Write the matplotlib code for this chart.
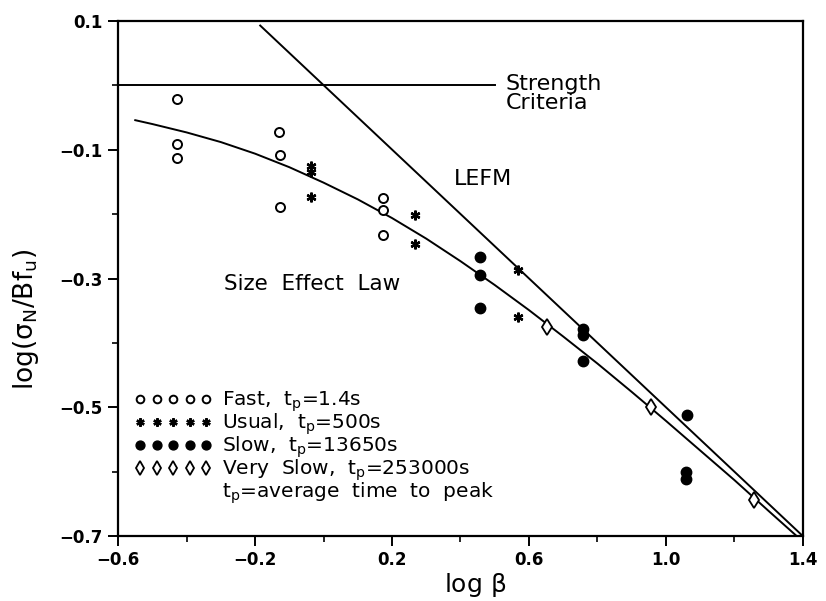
"""Size effect plot (log sigma_N/Bf_u vs log beta) redrawn from a scanned
figure: four loading-rate series, LEFM asymptote, strength criterion and
the size effect law curve.
"""
import matplotlib
matplotlib.use("Agg")
import matplotlib.pyplot as plt
from matplotlib.lines import Line2D

# Test points -----------------------------------------------------------
fast_x = [-0.429, -0.428, -0.428, -0.129, -0.128, -0.127, 0.173, 0.173, 0.174]
fast_y = [-0.021, -0.091, -0.112, -0.073, -0.108, -0.189, -0.175, -0.193, -0.232]

usual_x = [-0.037, -0.037, -0.036, 0.266, 0.267, 0.567, 0.568]
usual_y = [-0.125, -0.135, -0.173, -0.201, -0.247, -0.287, -0.360]

slow_x = [0.457, 0.457, 0.458, 0.758, 0.758, 0.759, 1.062, 1.059, 1.059]
slow_y = [-0.267, -0.294, -0.345, -0.379, -0.388, -0.428, -0.512, -0.601, -0.612]

vslow_x = [0.653, 0.955, 1.256]
vslow_y = [-0.375, -0.500, -0.644]

# Reference lines -------------------------------------------------------
sel_x = [-0.55, -0.5, -0.4, -0.3, -0.2, -0.1, 0.0, 0.1, 0.2, 0.3, 0.4,
         0.5, 0.6, 0.7, 0.8, 0.9, 1.0, 1.1, 1.2, 1.3, 1.38]
sel_y = [-0.054, -0.060, -0.073, -0.088, -0.106, -0.127, -0.151, -0.177,
         -0.206, -0.238, -0.273, -0.310, -0.349, -0.390, -0.432, -0.476,
         -0.521, -0.567, -0.613, -0.661, -0.699]
lefm_x = [-0.185, 1.4]
lefm_y = [0.093, -0.7]
strength_x = [-0.6, 0.5]
strength_y = [0.0, 0.0]

# Axes ticks ------------------------------------------------------------
xticks = [-0.6, -0.2, 0.2, 0.6, 1.0, 1.4]
xtick_labels = ["\u22120.6", "\u22120.2", "0.2", "0.6", "1.0", "1.4"]
xminor = [-0.4, 0.0, 0.4, 0.8, 1.2]
yticks = [0.1, -0.1, -0.3, -0.5, -0.7]
ytick_labels = ["0.1", "\u22120.1", "\u22120.3", "\u22120.5", "\u22120.7"]
yminor = [0.0, -0.2, -0.4, -0.6]

legend_labels = [r"Fast,  $t_p$=1.4s",
                 r"Usual,  $t_p$=500s",
                 r"Slow,  $t_p$=13650s",
                 r"Very  Slow,  $t_p$=253000s",
                 r"$t_p$=average  time  to  peak"]

plt.rcParams["mathtext.default"] = "regular"
plt.rcParams["font.family"] = "DejaVu Sans"

fig = plt.figure(figsize=(8.26, 6.01), dpi=100)
ax = fig.add_axes([0.143, 0.108, 0.829, 0.857])

lw = 1.4
ax.plot(strength_x, strength_y, color="black", lw=lw)
ax.plot(lefm_x, lefm_y, color="black", lw=lw)
ax.plot(sel_x, sel_y, color="black", lw=lw)

h_fast, = ax.plot(fast_x, fast_y, ls="none", marker="o", ms=6.5,
                  mfc="white", mec="black", mew=1.4)
h_usual, = ax.plot(usual_x, usual_y, ls="none", marker=(6, 2, 0), ms=7,
                   mec="black", mew=1.7)
h_slow, = ax.plot(slow_x, slow_y, ls="none", marker="o", ms=7.5,
                  mfc="black", mec="black")
h_vslow, = ax.plot(vslow_x, vslow_y, ls="none", marker="d", ms=8.5,
                   mfc="white", mec="black", mew=1.3)
h_blank = Line2D([], [], ls="none")

ax.text(0.532, -0.012, "Strength\nCriteria", fontsize=16, va="center",
        ha="left", linespacing=0.95)
ax.text(0.38, -0.145, "LEFM", fontsize=16, va="center", ha="left")
ax.text(-0.292, -0.309, "Size  Effect  Law", fontsize=15.5, va="center",
        ha="left")

ax.legend([h_fast, h_usual, h_slow, h_vslow, h_blank], legend_labels,
          numpoints=5, handlelength=3.9, handletextpad=0.5,
          labelspacing=-0.12, markerscale=0.85, frameon=False,
          fontsize=14.5, loc="lower left", borderpad=0, borderaxespad=0,
          bbox_to_anchor=(0.023, 0.058))

ax.set_xlim(-0.6, 1.4)
ax.set_ylim(-0.7, 0.1)
ax.set_xticks(xticks)
ax.set_xticklabels(xtick_labels)
ax.set_xticks(xminor, minor=True)
ax.set_yticks(yticks)
ax.set_yticklabels(ytick_labels)
ax.tick_params(which="major", direction="out", length=7, width=1.4,
               labelsize=12, pad=4)
ax.set_yticks(yminor, minor=True)
ax.tick_params(which="minor", direction="out", length=4.5, width=1.2)
for lab in ax.get_xticklabels() + ax.get_yticklabels():
    lab.set_fontweight("bold")
for sp in ax.spines.values():
    sp.set_linewidth(1.6)

ax.set_xlabel(r"log $\beta$", fontsize=18)
ax.xaxis.set_label_coords(0.522, -0.068)
ax.set_ylabel(r"log($\sigma_N$/B$f_u$)", fontsize=19)
ax.yaxis.set_label_coords(-0.112, 0.42)

fig.savefig("out.png", dpi=100, facecolor="white")
